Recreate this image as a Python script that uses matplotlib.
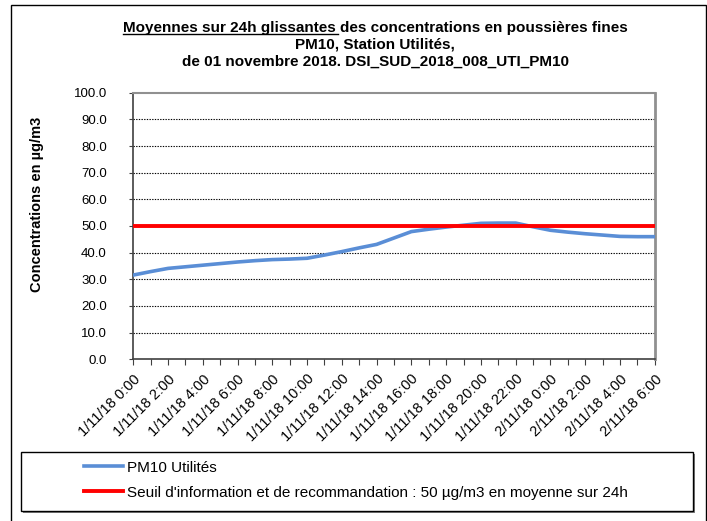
import matplotlib.pyplot as plt
from matplotlib.patches import Rectangle
from matplotlib.lines import Line2D

plt.rcParams["font.family"] = ["Liberation Sans", "DejaVu Sans"]

# hourly timestamps, 1/11/18 0:00 -> 2/11/18 6:00
hours = [f"1/11/18 {h}:00" for h in range(24)] + [f"2/11/18 {h}:00" for h in range(7)]
pm10 = [31.6, 32.9, 34.1, 34.7, 35.3, 35.9, 36.5, 37.0, 37.4, 37.6,
        37.9, 39.1, 40.4, 41.8, 43.1, 45.5, 47.9, 48.8, 49.6, 50.3,
        51.0, 51.1, 51.1, 49.7, 48.4, 47.7, 47.1, 46.6, 46.1, 46.0, 46.0]
threshold = [50.0] * len(hours)
y_ticks = [0, 10, 20, 30, 40, 50, 60, 70, 80, 90, 100]

W, H = 707, 521
fig = plt.figure(figsize=(W / 100, H / 100), dpi=100)

# outer chart border
fig.patches.append(Rectangle((11 / W, -0.01), 695 / W, 1.01 - 5 / H,
                             transform=fig.transFigure, fill=False,
                             edgecolor="black", linewidth=1.0))

ax = fig.add_axes([133.3 / W, 1 - 359.3 / H, 521.4 / W, 266.6 / H])
x = list(range(len(hours)))
line_pm, = ax.plot(x, pm10, color="#5A8ED6", linewidth=2.6,
                   solid_joinstyle="round", zorder=3)
line_thr, = ax.plot(x, threshold, color="#FF0000", linewidth=2.8, zorder=4)

ax.set_xlim(0, len(hours) - 1)
ax.set_ylim(0, 100)
ax.set_yticks(y_ticks)
ax.set_yticklabels([f"{v:.1f}" for v in y_ticks], fontsize=9.5)
ax.set_xticks(x)
ax.set_xticklabels([h if i % 2 == 0 else "" for i, h in enumerate(hours)],
                   rotation=45, ha="right", rotation_mode="anchor", fontsize=10.5)
ax.tick_params(axis="x", length=4, width=0.8, color="#404040", pad=5)
ax.tick_params(axis="y", length=3, width=0.8, color="#404040", pad=16)

for v in y_ticks[1:-1]:
    ax.axhline(v, color="black", linestyle=(0, (1.2, 1.2)), linewidth=0.8, zorder=1)

ax.spines["left"].set_color("#404040")
ax.spines["bottom"].set_color("#404040")
ax.spines["left"].set_linewidth(1.2)
ax.spines["bottom"].set_linewidth(1.2)
ax.spines["top"].set_color("#909090")
ax.spines["right"].set_color("#909090")
ax.spines["top"].set_linewidth(1.5)
ax.spines["right"].set_linewidth(2.0)

ax.set_ylabel("Concentrations en µg/m3", fontsize=10.5, fontweight="bold")
ax.yaxis.set_label_coords((44 - 133.3) / 521.4, 1 - (204 - 92.7) / 266.6)

# title, first part underlined
cx = 375 / W
tsize = 11
t1 = fig.text(cx, 1 - 28 / H, "Moyennes sur 24h glissantes des concentrations en poussières fines",
              ha="center", va="center", fontsize=tsize, fontweight="bold")
fig.text(cx, 1 - 44.5 / H, "PM10, Station Utilités,", ha="center", va="center",
         fontsize=tsize, fontweight="bold")
fig.text(cx, 1 - 61.5 / H, "de 01 novembre 2018. DSI_SUD_2018_008_UTI_PM10", ha="center",
         va="center", fontsize=tsize, fontweight="bold")
renderer = fig.canvas.get_renderer()
bb = t1.get_window_extent(renderer)
probe = fig.text(0, 0, "Moyennes sur 24h glissantes", fontsize=tsize, fontweight="bold")
pw = probe.get_window_extent(renderer).width
probe.remove()
uy = bb.y0 + 1
fig.add_artist(Line2D([bb.x0 / W, (bb.x0 + pw + 3) / W], [uy / H, uy / H],
                      transform=fig.transFigure, color="black", linewidth=1.0))

# legend box with shadow
fig.patches.append(Rectangle((23 / W, 1 - 513 / H), 672 / W, 59 / H,
                             transform=fig.transFigure, facecolor="#808080",
                             edgecolor="none"))
fig.patches.append(Rectangle((21 / W, 1 - 511 / H), 672 / W, 59 / H,
                             transform=fig.transFigure, facecolor="white",
                             edgecolor="black", linewidth=1.0))
fig.legend([line_pm, line_thr],
           ["PM10 Utilités",
            "Seuil d'information et de recommandation : 50 µg/m3 en moyenne sur 24h"],
           loc="upper left", bbox_to_anchor=(84 / W, 1 - 460.5 / H),
           frameon=False, fontsize=11, handlelength=2.55, handletextpad=0.25,
           borderpad=0, borderaxespad=0, labelspacing=0.72)

fig.savefig("out.png", dpi=100)
